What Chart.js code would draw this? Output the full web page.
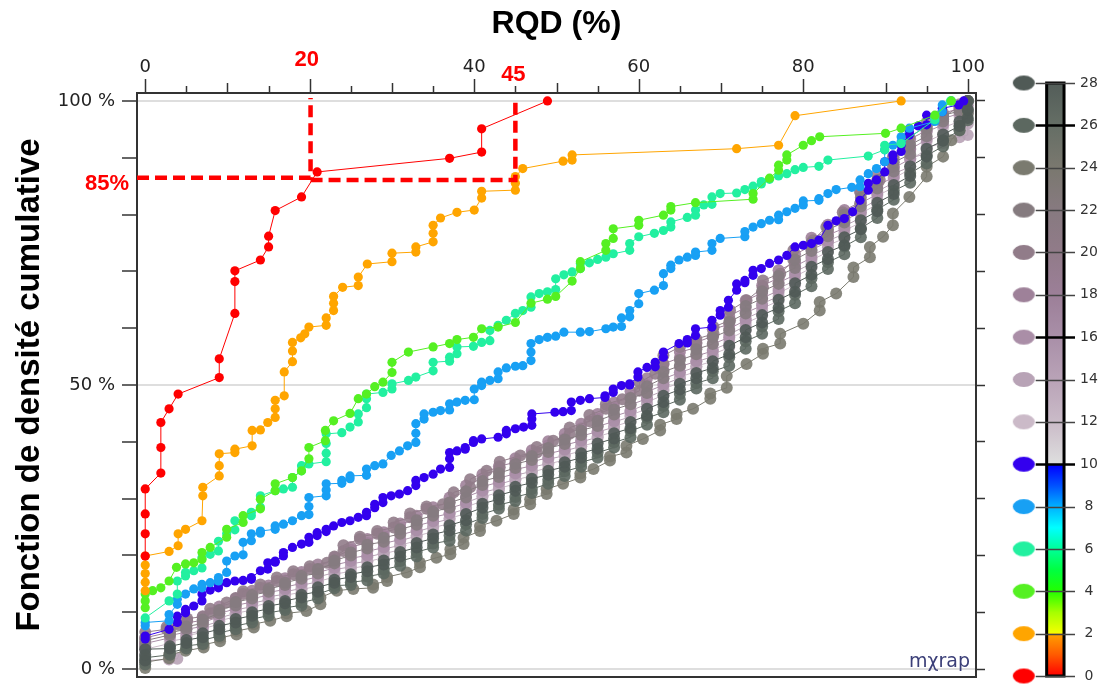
<!DOCTYPE html>
<html>
<head>
<meta charset="utf-8">
<script src="https://cdn.jsdelivr.net/npm/chart.js@4.4.0/dist/chart.umd.min.js"></script>
<style>
  html, body { margin: 0; padding: 0; background: #fff; overflow: hidden; }
  #wrap { position: relative; width: 1103px; height: 687px; }
  #mainChart { position: absolute; left: 0; top: 0; }
  #legendChart { position: absolute; left: 1000px; top: 0; }
</style>
</head>
<body>
<div id="wrap">
  <canvas id="mainChart" width="1000" height="687"></canvas>
  <canvas id="legendChart" width="103" height="687"></canvas>
</div>
<script>
// classes shown in the colour bar
const classValues = [0, 2, 4, 6, 8, 10, 12, 14, 16, 18, 20, 22, 24, 26, 28];
const classColors = ['#ff0000', '#ffa500', '#55f022', '#22f0a0', '#18a0f4', '#3300ee',
  '#cbbac8', '#b8a3b6', '#aa8ea7', '#9e8199', '#917c89', '#857b7f', '#7a7a6f', '#5c6860', '#505a56'];

// cumulative curves: [RQD %, cumulative %]
const cdf0 = [[0,19.9],[0,23.8],[0,27.3],[0,31.7],[1.9,34.5],[1.9,39],[1.9,43.4],[2.9,45.8],[4,48.4],[9,51.3],[9,54.6],[10.9,62.6],[10.9,68.2],[10.9,70.1],[14,72],[15,74.3],[15,76.2],[15.8,80.7],[19,83.1],[20.9,87.5],[37,89.9],[40.9,91],[40.9,95.1],[48.9,100]];

const cdf2 = [[0,13.8],[0,15.3],[0,16.8],[0,18.3],[0,19.9],[2.9,20.7],[4,21.7],[4,23.8],[4.9,24.6],[6.9,26.1],[7,30.5],[7,32],[9,34],[9,35.8],[9,37.9],[10.9,38.1],[10.9,38.7],[13,39.3],[13,42],[14,42.1],[14.9,43.4],[15.8,44.3],[15.8,45.8],[15.8,47.3],[16.9,48.1],[16.9,52.3],[17.9,54.1],[17.9,56],[17.9,57.5],[18.9,58.3],[19.4,59],[19.9,60.2],[22,60.5],[22,61.8],[22.9,63.1],[22.9,64.4],[22.9,65.6],[24,67.2],[25.9,67.5],[25.9,69],[27,71.3],[30,71.7],[30,73.2],[32.9,73.4],[32.9,74.3],[35,75.2],[35,76.7],[35,78.1],[35.9,79.4],[37.9,80.4],[40,80.8],[40.9,82.9],[40.9,84.1],[45,84.3],[45,85.5],[45,86.7],[45.9,88.1],[50.8,89.4],[51.9,89.6],[51.9,90.5],[71.9,91.6],[77,92.2],[79,97.4],[91.9,100]];

const cdf4 = [[0,10.8],[0,12],[0,13.2],[0.9,13.8],[1.9,14.3],[2.9,15.5],[3.8,17.9],[4.9,18.5],[5.9,18.7],[6.9,19.3],[6.9,20.5],[7.9,21.4],[9.9,23.2],[9.9,24.6],[11.9,25.8],[11.9,27],[14,28.2],[14,29.9],[15.8,31.4],[15.8,32.6],[17.9,33.7],[19,34.9],[19.9,37],[19.9,39],[21.9,40.2],[21.9,42],[22.9,43.7],[24.9,45],[25.9,47.6],[26.9,48.4],[27.9,49.7],[28.9,50.5],[30,52.2],[30,54],[32,55.8],[35,56.7],[37,57.3],[37.9,58],[39.9,58.4],[40.9,59.9],[42.9,60.2],[45,61],[46.9,64.4],[48.9,65.1],[49.9,65.6],[51.9,68.3],[52.9,70.5],[52.9,71.7],[56,73.7],[56,74.9],[56.9,75.8],[56.9,77.5],[60,78.1],[60,79],[63,79.9],[63.9,80.8],[63.9,81.4],[66.9,82.1],[73.9,82.7],[73.9,83.7],[75.9,86.4],[77,87.8],[77,88.7],[78,89.6],[78,90.5],[80,92.2],[81,93],[82,93.7],[90,94.3],[91.9,95.2],[96,97.5],[98,100]];

const cdf6 = [[0,9],[2.9,12],[3.9,13.2],[3.9,15.5],[4.9,16.4],[4.9,17],[5.9,17.3],[6.9,17.8],[6.9,19.6],[7.9,20.2],[8.9,20.8],[8.9,22.5],[9.9,23.8],[10.9,24.5],[10.9,26.1],[12.9,27],[12.9,27.6],[14,28.5],[14,30.5],[15.8,31.4],[16.8,31.7],[17.9,32],[17.9,33.7],[19,34.9],[19,35.8],[19.9,36.1],[22,36.5],[22,38],[22,39.7],[22,41.4],[23.9,41.6],[24.9,42.6],[25.9,43.5],[25.9,44.9],[26.9,46],[26.9,47.6],[26.9,48.4],[28.9,48.7],[30,49.3],[30,50.2],[32,50.8],[32.9,51.4],[35,52.5],[35,54],[37,54.2],[37,54.9],[37.9,55.5],[37.9,56.7],[39.9,56.8],[40.9,57.5],[41.9,57.8],[41.9,59.6],[42.9,60.5],[43.9,61.4],[45,62.6],[45.9,63.1],[46.9,63.7],[46.9,65.5],[47.9,66.1],[48.9,66.4],[49.9,66.8],[49.9,68.7],[50.9,69.4],[51.9,69.9],[52.9,70.5],[52.9,71.4],[54,71.5],[55,72.1],[56,72.5],[56.9,73.1],[58.9,73.7],[58.9,74.9],[60,76.1],[61.9,76.7],[63,77.2],[63.9,77.8],[63.9,78.7],[65.9,79.5],[66.9,79.9],[66.9,80.8],[67.9,81.7],[68.9,81.8],[68.9,83.1],[69.9,83.7],[71.9,83.8],[72.9,84.4],[73.9,85],[74.9,85.4],[74.9,85.8],[75.9,86.2],[77,86.8],[78,87.2],[79,87.9],[80,88.3],[81.9,88.5],[83,89.6],[87.9,90.3],[89.9,91.4],[89.9,92.2],[91.9,92.5],[96,96.7],[96,97.2],[97.9,100]];

const cdf8 = [[0,7.6],[0,8.2],[2.9,8.5],[2.9,9.6],[3.9,11.4],[3.9,12.3],[4.9,13.2],[5.9,14.1],[6.9,14.3],[6.9,14.9],[7.9,15.2],[8.9,15.5],[8.9,16.1],[9.9,17],[9.9,19],[10.9,19.9],[11.9,20.1],[11.9,22.3],[12.9,22.6],[12.9,23.8],[14,23.9],[14,24.3],[15.8,24.6],[15.8,25.2],[16.8,25.5],[17.9,26.1],[19,27],[19.9,27.2],[19.9,28.6],[19.9,30.2],[22,30.5],[22,31.5],[22,32.6],[23.9,32.7],[23.9,33.2],[24.9,33.5],[24.9,34],[26.9,34.1],[26.9,35.2],[27.9,35.8],[28.9,36.1],[29.9,37.6],[30.9,38.4],[31.9,39.3],[32.9,39.9],[32.9,41.5],[32.9,43.2],[33.9,44],[33.9,44.9],[35,45.2],[35.9,45.5],[37,45.6],[37,46.7],[37.9,47],[38.9,47.3],[40,47.4],[40,49.3],[40.9,49.9],[40.9,50.5],[41.9,50.8],[42.9,51.1],[42.9,52.3],[43.9,53],[45,53.3],[45.9,53.4],[46.9,54.3],[46.9,55.8],[46.9,57.3],[47.9,58],[48.9,58.4],[49.9,58.6],[50.9,59.3],[52.9,59.3],[54,59.4],[56,59.9],[56.9,60.2],[57.9,60.3],[57.9,61.8],[58.9,62],[58.9,63.1],[60,64.3],[60,66.1],[61.9,66.7],[63,67.5],[63,69.6],[63.9,70.5],[63.9,71.1],[64.9,72],[65.9,72.5],[66.9,72.8],[66.9,73.4],[68.9,73.7],[68.9,74.9],[69.9,75.8],[72.9,76.1],[72.9,77],[73.9,77.8],[74.9,78.4],[75.9,79],[77,79.1],[77,79.9],[78,80.5],[79,81.1],[80,81.7],[80,82.4],[81.9,82.5],[81.9,82.8],[83,83.7],[84,84.4],[85.9,84.8],[86.9,84.9],[86.9,86.1],[87.9,87.2],[88.9,88.1],[89.9,89.3],[89.9,91.4],[90.9,92.2],[91.9,92.8],[91.9,93.7],[92.9,95.2],[96,96.4],[96.9,98.1],[96.9,99.3],[98,100]];

const cdf10 = [[0,5.3],[0,5.8],[2.9,7],[3.9,8.2],[3.9,9.3],[4.9,9.9],[4.9,10.5],[5.9,11.1],[6.9,12],[6.9,13.2],[7.9,13.9],[8.9,14.3],[8.9,14.9],[9.9,15.2],[10.9,15.5],[11.9,15.6],[12.9,15.8],[12.9,16.1],[14,17.3],[14.9,17.6],[14.9,18.7],[15.8,18.8],[15.8,19],[16.8,19.9],[16.8,20.5],[17.9,21.4],[19,22],[19.9,22.3],[19.9,23.2],[20.9,23.5],[20.9,24],[22,24.2],[22,24.6],[22.9,25.2],[23.9,25.8],[24.9,26.1],[25.9,26.7],[26.9,27],[26.9,27.6],[27.9,28.4],[27.9,29],[28.9,29.3],[28.9,30.2],[29.9,30.5],[30.9,30.8],[31.9,31.4],[32.9,32.3],[32.9,33.2],[33.9,33.7],[35,34.3],[35.9,35.2],[37,35.5],[37,37],[37,38.1],[37.9,38.4],[38.9,38.7],[38.9,39],[39.9,39.9],[39.9,40.2],[40.9,40.5],[42.9,40.8],[43.9,41.4],[43.9,42],[45,42.3],[46,42.6],[47,42.9],[47,44],[47,44.9],[49.8,45.2],[50.8,45.3],[51.8,45.5],[51.8,47],[52.9,47.3],[54,47.6],[55.9,47.8],[55.9,48.1],[56.9,48.7],[56.9,49.3],[57.9,49.9],[58.9,50],[58.9,50.2],[59.9,51.4],[59.9,52.3],[61,53.1],[62,53.2],[62,54],[63,54.9],[63,55.8],[64.9,57.3],[65.9,57.4],[65.9,58],[66.9,58.7],[66.9,59.9],[68.9,60.2],[68.9,61.4],[69.9,62.3],[69.9,63.1],[70.9,63.7],[70.9,64.9],[71.9,66.7],[71.9,67.8],[72.9,68],[72.9,68.4],[73.9,69.3],[73.9,70.2],[74.9,70.5],[75.9,71.4],[77,72],[78,72.8],[79,74.3],[80,74.6],[81,74.9],[81.9,75.5],[83,78.1],[84,78.9],[85,79.3],[86,80.5],[86.9,82.5],[87.9,84.3],[87.9,85.5],[88.9,86.1],[89.9,87.5],[89.9,89.3],[90.9,89.6],[90.9,90.5],[91.9,91.1],[91.9,92.2],[92.9,94],[92.9,94.6],[94,95.6],[95,95.8],[95,97.5],[96.9,98.1],[96.9,98.7],[98.9,99.3],[99.5,100]];

const cdf12 = [[0,2.5],[0,3.5],[3,4.5],[3,4.9],[5,5.4],[5,5.9],[7,6.4],[7,7.1],[9,7.9],[9,8.5],[11,9.2],[11,9.8],[13,10.4],[13,11],[15,11.6],[15,12.1],[17,12.6],[17,13],[19,13.5],[19,14],[21,14.6],[21,15.4],[23,16.2],[23,16.7],[25,17.2],[25,17.7],[27,18.2],[27,18.9],[29,19.6],[29,20.3],[31,21],[31,21.8],[33,22.6],[33,23.4],[35,24.2],[35,24.9],[37,25.6],[37,26.5],[39,27.4],[39,28.5],[41,29.6],[41,30.3],[43,31.1],[43,31.8],[45,32.6],[45,33.3],[47,34],[47,34.7],[49,35.4],[49,36.1],[51,36.8],[51,37.6],[53,38.4],[53,39.2],[55,40],[55,40.9],[57,41.8],[57,42.7],[59,43.6],[59,44.7],[61,45.8],[61,47],[63,48.2],[63,49.3],[65,50.4],[65,51.4],[67,52.4],[67,53.3],[69,54.2],[69,55.4],[71,56.6],[71,58.1],[73,59.6],[73,60.9],[75,62.2],[75,63.5],[77,64.8],[77,66.2],[79,67.6],[79,69.1],[81,70.6],[81,72],[83,73.4],[83,74.6],[85,75.8],[85,77.2],[87,78.6],[87,80.2],[89,81.8],[89,83.3],[91,84.8],[91,86.4],[93,88],[93,89.7],[95,91.4],[95,92.8],[97,94.2],[97,95.3],[99,96.4],[99,97.2],[100,98],[100,100]];

const cdf14 = [[0,1.5],[2.9,1.7],[3.9,1.8],[5,5.6],[5,6.1],[7,6.8],[7,7.5],[9,8.4],[9,9],[11,9.8],[11,10.4],[13,11],[13,11.6],[15,12.2],[15,12.7],[17,13.2],[17,13.6],[19,14.2],[19,14.7],[21,15.4],[21,16.2],[23,17],[23,17.5],[25,18],[25,18.5],[27,19],[27,19.7],[29,20.4],[29,21.1],[31,21.8],[31,22.6],[33,23.4],[33,24.2],[35,25],[35,25.7],[37,26.4],[37,27.3],[39,28.2],[39,29.3],[41,30.4],[41,31.1],[43,31.8],[43,32.5],[45,33.4],[45,34.1],[47,34.8],[47,35.5],[49,36.2],[49,36.9],[51,37.6],[51,38.4],[53,39.2],[53,40],[55,40.8],[55,41.7],[57,42.6],[57,43.5],[59,44.4],[59,45.5],[61,46.6],[61,47.8],[63,49],[63,50.1],[65,51.2],[65,52.2],[67,53.2],[67,54.1],[69,55],[69,56.2],[71,57.4],[71,58.9],[73,60.4],[73,61.7],[75,63],[75,64.3],[77,65.6],[77,67],[79,68.4],[79,69.9],[81,71.4],[81,72.8],[83,74.2],[83,75.4],[85,76.6],[85,78],[87,79.4],[87,81],[89,82.6],[89,84.1],[91,85.6],[91,87.2],[93,88.4],[93,89.9],[95,90.8],[95,91.8],[97,92.6],[97,93.1],[99,93.6],[100,94],[100,96],[100,98],[100,100]];

const cdf16 = [[0,3.5],[0,4.5],[3,5.5],[3,5.9],[5,6.5],[5,7],[7,7.5],[7,8.2],[9,9.2],[9,9.8],[11,10.6],[11,11.2],[13,11.8],[13,12.4],[15,13],[15,13.5],[17,14],[17,14.4],[19,15.1],[19,15.6],[21,16.2],[21,17],[23,17.8],[23,18.3],[25,19],[25,19.5],[27,20],[27,20.7],[29,21.4],[29,22.1],[31,22.8],[31,23.6],[33,24.4],[33,25.2],[35,26],[35,26.7],[37,27.4],[37,28.3],[39,29.2],[39,30.3],[41,31.4],[41,32.1],[43,32.9],[43,33.6],[45,34.4],[45,35.1],[47,35.8],[47,36.5],[49,37.2],[49,37.9],[51,38.6],[51,39.4],[53,40.2],[53,41],[55,41.8],[55,42.7],[57,43.6],[57,44.5],[59,45.4],[59,46.5],[61,47.6],[61,48.8],[63,50],[63,51.1],[65,52.2],[65,53.2],[67,54.2],[67,55.1],[69,56],[69,57.2],[71,58.4],[71,59.9],[73,61.4],[73,62.7],[75,64],[75,65.3],[77,66.6],[77,68],[79,69.4],[79,70.9],[81,72.4],[81,73.8],[83,75.2],[83,76.4],[85,77.6],[85,79],[87,80.4],[87,82],[89,83.6],[89,85.1],[91,86.6],[91,88.2],[93,89.8],[93,91.5],[95,93.2],[95,94.6],[97,95.8],[97,96.9],[99,97.8],[99,98.6],[100,99.2],[100,100]];

const cdf18 = [[0,4.5],[0,5.5],[3,6.5],[3,6.9],[5,7.6],[5,8.1],[7,8.6],[7,9.3],[9,10.4],[9,11],[11,11.8],[11,12.4],[13,13.2],[13,13.8],[15,14.2],[15,14.7],[17,15.6],[17,16],[19,16.6],[19,17.1],[21,17.6],[21,18.4],[23,19.2],[23,19.7],[25,21],[25,21.5],[27,22.2],[27,22.9],[29,23.4],[29,24.1],[31,24.8],[31,25.6],[33,26.2],[33,27],[35,27.8],[35,28.5],[37,29.3],[37,30.2],[39,31.2],[39,32.3],[41,33.6],[41,34.3],[43,35],[43,35.7],[45,36.4],[45,37.1],[47,37.8],[47,38.5],[49,39.4],[49,40.1],[51,40.6],[51,41.4],[53,42.4],[53,43.2],[55,44],[55,44.9],[57,46],[57,46.9],[59,47.8],[59,48.9],[61,50],[61,51.2],[63,52.6],[63,53.7],[65,54.8],[65,55.8],[67,56.6],[67,57.5],[69,58.6],[69,59.8],[71,60.7],[71,62.2],[73,63.6],[73,64.9],[75,66.2],[75,67.5],[77,68.8],[77,70.2],[79,71.5],[79,73],[81,74.5],[81,75.9],[83,77],[83,78.2],[85,79.4],[85,80.8],[87,82.2],[87,83.8],[89,85.5],[89,87],[91,88.4],[91,90],[93,91.6],[93,93.3],[95,94.8],[95,96.2],[97,96.8],[97,97.9],[99,98.6],[99,99.4],[100,100]];

const cdf20 = [[0,5.5],[0,6.5],[2.6,7],[2.6,7.4],[4,7.8],[5.1,8.5],[5.1,8.9],[7,9.2],[7.9,9.8],[7.9,10.6],[9.9,11.7],[11,12.5],[11.9,13.2],[11.9,13.7],[14,14.3],[14,14.9],[16,15.5],[16,16.1],[18,16.7],[18,17.2],[20,17.6],[20,18.1],[22.1,18.7],[23,19.8],[24.1,20.8],[24.1,21.8],[26.1,22.9],[26.1,23.3],[28.2,23.8],[28.2,24.3],[30.2,24.9],[30.2,25.8],[32.2,26.7],[32.2,27.4],[34.2,28.2],[34.2,28.6],[36.2,29],[37.5,31.1],[39.5,32],[39.5,33.4],[41.5,34.9],[43.1,35.5],[43.1,36.5],[45.6,37.6],[47.6,38.1],[47.6,39.1],[49.6,40.2],[51.6,41.4],[51.6,42.5],[54,43.6],[54,44.7],[56,45.8],[56,46.6],[58,47.5],[60.1,49],[60.1,50.5],[62,52],[63,53.7],[63,55.2],[65,56.7],[67,57.3],[67,58.1],[69.1,59],[69.1,60.2],[71.1,61.4],[71.1,63.1],[73.1,64.9],[75.1,67.2],[75.1,68.4],[77.2,69.6],[78.8,72],[78.8,73.7],[81.2,75.5],[82.8,77.8],[84.8,79],[84.8,80.4],[86.9,81.9],[86.9,84],[89.3,86.1],[90.9,88.4],[90.9,90.2],[92.9,92],[92.9,93.7],[95,95.5],[97,97.2],[99,99],[100,100]];

const cdf22 = [[0,4],[0,5],[3,6],[3,6.4],[5,7],[5,7.5],[7,8],[7,8.7],[9,9.8],[9,10.4],[11,11.2],[11,11.8],[13,12.4],[13,13],[15,13.6],[15,14.1],[17,14.8],[17,15.2],[19,15.9],[19,16.4],[21,16.8],[21,17.6],[23,18.6],[23,19.1],[25,20],[25,20.5],[27,21.2],[27,21.9],[29,22.4],[29,23.1],[31,23.8],[31,24.6],[33,25.4],[33,26.2],[35,27],[35,27.7],[37,28.4],[37,29.3],[39,30.2],[39,31.3],[41,32.4],[41,33.1],[43,33.8],[43,34.5],[45,35.4],[45,36.1],[47,36.8],[47,37.5],[49,38.2],[49,38.9],[51,39.6],[51,40.4],[53,41.2],[53,42],[55,42.8],[55,43.7],[57,44.8],[57,45.7],[59,46.6],[59,47.7],[61,48.6],[61,49.8],[63,51.2],[63,52.3],[65,53.4],[65,54.4],[67,55.4],[67,56.3],[69,57.2],[69,58.4],[71,59.6],[71,61.1],[73,62.6],[73,63.9],[75,65.2],[75,66.5],[77,67.8],[77,69.2],[79,70.6],[79,72.1],[81,73.6],[81,75],[83,76.2],[83,77.4],[85,78.6],[85,80],[87,81.4],[87,83],[89,84.6],[89,86.1],[91,87.6],[91,89.2],[93,90.6],[93,92.3],[95,93.8],[95,95.2],[97,96.4],[97,97.5],[99,98.2],[99,99],[100,100]];

const cdf24 = [[0,0.2],[0,1.2],[2.9,1.9],[2.9,2.5],[4.9,3.2],[7.1,3.8],[7.1,4.3],[9.1,4.9],[9.1,5.5],[11.1,6.1],[11.1,6.7],[13.2,7.3],[13.2,7.9],[15.2,8.5],[17.2,9.3],[17.2,9.8],[19.6,10.2],[21.3,11.4],[21.3,12.6],[23.3,13.8],[25.3,14.1],[27.7,14.3],[27.7,14.9],[29.4,15.5],[29.4,16.2],[31.8,17],[33.4,17.9],[33.4,18.7],[35.4,19.6],[37.1,20.2],[37.1,21.1],[38.7,22],[38.7,23.1],[40.7,24.3],[40.7,25.2],[42.7,26.1],[44.8,27.3],[44.8,28.1],[46.8,29],[46.8,29.9],[48.8,30.8],[48.8,31.7],[50.8,32.6],[52.9,33.7],[52.9,34.4],[54.5,35.2],[56.5,36.7],[56.5,37.4],[58.5,38.1],[58.5,39.3],[60.5,40.5],[62.6,42],[62.6,43],[64.6,44],[64.6,44.9],[66.6,45.8],[68.7,47.6],[68.7,48.5],[70.7,49.5],[70.7,51.6],[73.1,53.7],[75.1,55.5],[75.1,56.4],[77.2,57.3],[77.2,59],[80,60.8],[82,63.1],[82,64.6],[84,66.1],[86.1,69],[86.1,70.7],[88.1,72.5],[88.1,74.3],[89.7,76.1],[90.9,78.1],[90.9,80.2],[92.9,83.1],[95,86.7],[95,88.4],[97,90.2],[98,93.1],[99,94.9],[100,97.8],[100,100]];

const cdf26 = [[0,0.8],[0,2],[3,2.5],[3,2.9],[5,3.6],[5,4.1],[7,4.4],[7,5.1],[9,5.8],[9,6.4],[11,7],[11,7.6],[13,8.2],[13,8.8],[15,9.4],[15,9.9],[17,10.4],[17,10.8],[19,11.2],[19,11.7],[21,12.4],[21,13.2],[23,14.2],[23,14.7],[25,14.8],[25,15.3],[27,15.6],[27,16.3],[29,16.8],[29,17.5],[31,18.2],[31,19],[33,19.8],[33,20.6],[35,21.4],[35,22.1],[37,22.6],[37,23.5],[39,24.4],[39,25.5],[41,26.6],[41,27.3],[43,28.2],[43,28.9],[45,29.6],[45,30.3],[47,31],[47,31.7],[49,32.6],[49,33.3],[51,34],[51,34.8],[53,35.6],[53,36.4],[55,37.2],[55,38.1],[57,39],[57,39.9],[59,40.8],[59,41.9],[61,43],[61,44.2],[63,45.2],[63,46.3],[65,47.4],[65,48.4],[67,49.4],[67,50.3],[69,51.2],[69,52.4],[71,53.4],[71,54.9],[73,56.4],[73,57.7],[75,59],[75,60.3],[77,61.6],[77,63],[79,64.4],[79,65.9],[81,67.4],[81,68.8],[83,70.4],[83,71.6],[85,73],[85,74.4],[87,76],[87,77.6],[89,79.4],[89,80.9],[91,82.6],[91,84.2],[93,85.6],[93,87.3],[95,89],[95,90.4],[97,92],[97,93.1],[99,94.8],[99,95.6],[100,96.6],[100,98.4],[100,100]];

const cdf28 = [[0,1.5],[0,2.5],[0,3.5],[3,3.6],[3,4],[5,4.6],[5,5.1],[7,5.6],[7,6.3],[9,7],[9,7.6],[11,8.2],[11,8.8],[13,9.4],[13,10],[15,10.6],[15,11.1],[17,11.6],[17,12],[19,12.6],[19,13.1],[21,13.6],[21,14.4],[23,15.2],[23,15.7],[25,16.2],[25,16.7],[27,17.2],[27,17.9],[29,18.4],[29,19.1],[31,19.8],[31,20.6],[33,21.4],[33,22.2],[35,23],[35,23.7],[37,24.4],[37,25.3],[39,26.2],[39,27.3],[41,28.4],[41,29.1],[43,29.9],[43,30.6],[45,31.4],[45,32.1],[47,32.8],[47,33.5],[49,34.2],[49,34.9],[51,35.6],[51,36.4],[53,37.2],[53,38],[55,38.8],[55,39.7],[57,40.6],[57,41.5],[59,42.4],[59,43.5],[61,44.6],[61,45.8],[63,47],[63,48.1],[65,49.2],[65,50.2],[67,51.2],[67,52.1],[69,53],[69,54.2],[71,55.4],[71,56.9],[73,58.4],[73,59.7],[75,61],[75,62.3],[77,63.6],[77,65],[79,66.4],[79,67.9],[81,69.4],[81,70.8],[83,72.2],[83,73.4],[85,74.6],[85,76],[87,77.4],[87,79],[89,80.6],[89,82.1],[91,83.6],[91,85.2],[93,86.8],[93,88.5],[95,90.2],[95,91.6],[97,93],[97,94.1],[99,95.6],[99,96.4],[100,97],[100,98.5],[100,100]];

// the two reading guides (RQD 20 and 45 at about 85 %)
const guide20 = [[-1,86.5],[20.1,86.5],[20.1,100.5]];
const guide45 = [[20.1,86.1],[45,86.1],[45,100.3]];

function pts(arr) { return arr.map(p => ({x: p[0], y: p[1]})); }
function withAlpha(hex, a) {
  const n = parseInt(hex.slice(1), 16);
  return 'rgba(' + (n >> 16) + ',' + ((n >> 8) & 255) + ',' + (n & 255) + ',' + a + ')';
}

const curves = {0: cdf0, 2: cdf2, 4: cdf4, 6: cdf6, 8: cdf8, 10: cdf10, 12: cdf12, 14: cdf14,
  16: cdf16, 18: cdf18, 20: cdf20, 22: cdf22, 24: cdf24, 26: cdf26, 28: cdf28};
// drawing order: first in the list ends up on top
const drawOrder = [0, 2, 4, 6, 8, 10, 28, 26, 24, 22, 20, 18, 16, 14, 12];

const datasets = [];
[guide20, guide45].forEach(g => {
  datasets.push({
    data: pts(g), showLine: true, borderColor: '#ff0000', borderWidth: 4.5,
    borderDash: [12, 6], pointRadius: 0, clip: false
  });
});
drawOrder.forEach(v => {
  const col = classColors[classValues.indexOf(v)];
  const grey = v > 10;
  datasets.push({
    label: String(v),
    data: pts(curves[v]),
    showLine: true,
    borderColor: col,
    borderWidth: 1,
    pointRadius: grey ? 6 : 4.6,
    pointBorderWidth: 0,
    pointBackgroundColor: grey ? withAlpha(col, 0.9) : col
  });
});

const extras = {
  id: 'extras',
  afterDraw(chart) {
    const {ctx, chartArea} = chart;
    const x = chart.scales.x, y = chart.scales.y;
    ctx.save();
    // top tick marks
    ctx.strokeStyle = '#333';
    ctx.lineWidth = 1.5;
    for (let v = 0; v <= 100; v += 5) {
      const len = v % 20 === 0 ? 14 : (v % 10 === 0 ? 10 : 7);
      const px = Math.round(x.getPixelForValue(v)) + 0.5;
      ctx.beginPath();
      ctx.moveTo(px, chartArea.top);
      ctx.lineTo(px, chartArea.top - len);
      ctx.stroke();
    }
    // red annotations
    ctx.fillStyle = '#ff0000';
    ctx.font = 'bold 22px "Liberation Sans", Arial, sans-serif';
    ctx.textAlign = 'center';
    ctx.textBaseline = 'middle';
    ctx.fillText('20', x.getPixelForValue(20) - 3, 60);
    ctx.fillText('45', x.getPixelForValue(45) - 2, 75);
    ctx.fillText('85%', 107, y.getPixelForValue(85) - 2);
    // logo
    ctx.fillStyle = '#3b3f78';
    ctx.font = '19px "DejaVu Sans", sans-serif';
    ctx.textAlign = 'right';
    ctx.textBaseline = 'alphabetic';
    ctx.fillText('mχrap', chartArea.right - 6, chartArea.bottom - 10);
    ctx.restore();
  }
};

const tickFont = {family: '"DejaVu Sans", sans-serif', size: 18};
// keep the plot box fixed: no extra room for half-labels at the ends
const noEndPadding = s => { s.paddingTop = 0; s.paddingBottom = 0; };

new Chart(document.getElementById('mainChart'), {
  type: 'scatter',
  data: {datasets: datasets},
  options: {
    responsive: false,
    animation: false,
    layout: {padding: 0},
    plugins: {legend: {display: false}, tooltip: {enabled: false}},
    scales: {
      x: {
        type: 'linear', position: 'top', min: -1, max: 101,
        afterFit: s => { s.height = 93; s.paddingLeft = 0; s.paddingRight = 0; },
        title: {display: true, text: 'RQD (%)', color: '#000', padding: {top: 5, bottom: 0},
          font: {family: '"Liberation Sans", Arial, sans-serif', size: 32, weight: 'bold'}},
        ticks: {stepSize: 5, includeBounds: false, font: tickFont, color: '#222', padding: 15, maxRotation: 0,
          autoSkip: false, callback: v => (v % 20 === 0 && v !== 20 ? v : '')},
        grid: {drawOnChartArea: false, drawTicks: false},
        border: {display: true, color: '#333', width: 2}
      },
      x2: {
        type: 'linear', position: 'bottom', min: -1, max: 101,
        afterFit: s => { s.height = 10; s.paddingLeft = 0; s.paddingRight = 0; },
        ticks: {display: false},
        grid: {drawOnChartArea: false, drawTicks: false},
        border: {display: true, color: '#333', width: 2}
      },
      y: {
        type: 'linear', position: 'left', min: -1.4, max: 101.4,
        afterFit: s => { s.width = 137; noEndPadding(s); },
        title: {display: true, text: 'Fonction de densité cumulative', color: '#000', padding: {top: 10, bottom: 0},
          font: {family: '"Liberation Sans", Arial, sans-serif', size: 33, weight: 'bold'}},
        ticks: {stepSize: 10, includeBounds: false, font: tickFont, color: '#222', padding: 7,
          autoSkip: false, callback: v => (v % 50 === 0 ? v + ' %' : '')},
        grid: {
          color: c => (c.tick && c.tick.value % 50 === 0 ? '#dedede' : 'rgba(0,0,0,0)'),
          lineWidth: 2, tickColor: '#333', tickLength: 15, tickWidth: 1.5
        },
        border: {display: true, color: '#333', width: 2}
      },
      y2: {
        type: 'linear', position: 'right', min: -1.4, max: 101.4,
        afterFit: s => { s.width = 24; noEndPadding(s); },
        ticks: {display: false, stepSize: 10, includeBounds: false},
        grid: {drawOnChartArea: false, tickColor: '#333', tickLength: 9, tickWidth: 1.5},
        border: {display: true, color: '#333', width: 2}
      }
    }
  },
  plugins: [extras]
});

// colour bar legend
function ellipseImg(color) {
  const c = document.createElement('canvas');
  c.width = 24; c.height = 17;
  const g = c.getContext('2d');
  g.fillStyle = color;
  g.beginPath();
  g.ellipse(12, 8.5, 11, 7.5, 0, 0, Math.PI * 2);
  g.fill();
  return c;
}

const barStops = [
  [0, '#ff0000'], [1, '#ff5a00'], [1.96, '#ff9f00'], [2.04, '#f2ff00'], [3, '#a6ff00'],
  [4, '#22ff00'], [5, '#00ff40'], [6, '#00ff99'], [7, '#00ffff'], [8, '#00b0ff'],
  [9, '#0050ff'], [9.96, '#0000ff'], [10.04, '#dedede'], [12, '#cabbc8'], [14, '#b9a3b7'],
  [16, '#a98fa8'], [18, '#9c7f98'], [20, '#917b89'], [22, '#877a80'], [24, '#7a786f'],
  [26, '#656e65'], [28, '#535d59']
];

const colourBar = {
  id: 'colourBar',
  beforeDatasetsDraw(chart) {
    const {ctx} = chart;
    const x = chart.scales.x, y = chart.scales.y;
    const y0 = y.getPixelForValue(0), y28 = y.getPixelForValue(28);
    const left = x.getPixelForValue(39), right = x.getPixelForValue(58);
    ctx.save();
    const grad = ctx.createLinearGradient(0, y0, 0, y28);
    barStops.forEach(s => grad.addColorStop(s[0] / 28, s[1]));
    ctx.fillStyle = grad;
    ctx.fillRect(left, y28, right - left, y0 - y28);
    ctx.strokeStyle = '#000';
    ctx.lineWidth = 3;
    ctx.strokeRect(left, y28, right - left, y0 - y28);
    classValues.forEach(v => {
      const py = Math.round(y.getPixelForValue(v)) + 0.5;
      const strong = v === 26 || v === 16 || v === 10;
      ctx.strokeStyle = strong ? '#000' : '#444';
      ctx.lineWidth = strong ? 2.5 : 1.5;
      ctx.beginPath();
      ctx.moveTo(x.getPixelForValue(27), py);
      ctx.lineTo(x.getPixelForValue(70), py);
      ctx.stroke();
    });
    ctx.restore();
  }
};

new Chart(document.getElementById('legendChart'), {
  type: 'scatter',
  data: {
    datasets: [{
      data: classValues.map(v => ({x: 14, y: v})),
      pointStyle: classColors.map(ellipseImg),
      pointRadius: 10,
      clip: false
    }]
  },
  options: {
    responsive: false,
    animation: false,
    layout: {padding: {top: 83, bottom: 9, left: 5, right: 0}},
    plugins: {legend: {display: false}, tooltip: {enabled: false}},
    scales: {
      x: {type: 'linear', min: 0, max: 70, display: false},
      y: {
        type: 'linear', position: 'right', min: 0, max: 28,
        afterFit: s => { s.width = 28; noEndPadding(s); },
        ticks: {stepSize: 2, font: {family: '"DejaVu Sans", sans-serif', size: 14}, color: '#333',
          padding: 5, crossAlign: 'center'},
        grid: {display: false, drawTicks: false},
        border: {display: false}
      }
    }
  },
  plugins: [colourBar]
});
</script>
</body>
</html>
